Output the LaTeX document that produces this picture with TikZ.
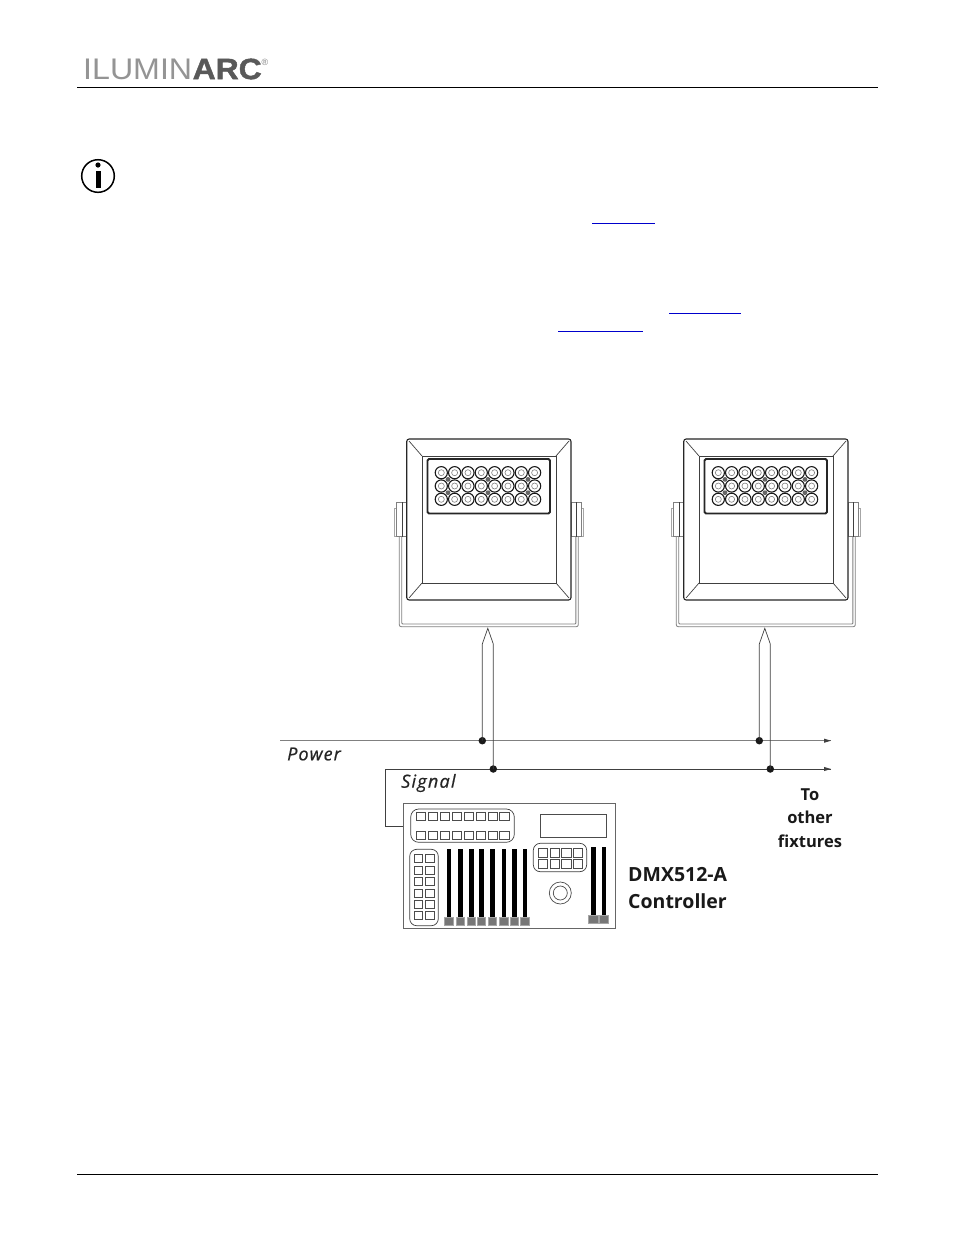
\documentclass[tikz,border=0pt]{standalone}
\usepackage{fontspec}
\setmainfont{Open Sans}
\newfontfamily\logofont{Liberation Sans}
\newfontfamily\logoheavy[FakeBold=1.5]{Liberation Sans Bold}
\definecolor{linkblue}{HTML}{0000CC}
\definecolor{faderk}{HTML}{777777}
\tikzset{
  line/.style={draw=black!75,line width=0.7pt},
  pale/.style={draw=black!50,line width=0.85pt},
  dark/.style={draw=black!85,line width=1.1pt},
  busline/.style={draw=black!50,line width=1.2pt},
  rule/.style={draw=black,line width=0.9pt},
  linkrule/.style={draw=linkblue,line width=1pt},
  junction/.style={circle,fill=black!90,inner sep=0pt,minimum size=7.5pt},
  btn/.style={draw=black!70,line width=0.55pt,fill=white},
  label/.style={inner sep=0pt,text=black!90,font=\bfseries},
  tag/.style={inner sep=0pt,text=black!85,font=\itshape\fontsize{18}{20}\selectfont},
  pics/fixture/.style={code={
    % bracket
    \draw[pale,rounded corners=2pt] (-5.7,536)--(-5.7,626.7)--(173.3,626.7)--(173.3,536);
    \draw[pale,rounded corners=1pt] (-3.3,536)--(-3.3,624)--(170.9,624)--(170.9,536);
    % pivots
    \draw[pale,draw=black!35] (-11,508.5) rectangle (-8.3,536);
    \draw[pale] (-8.3,502) rectangle (1.7,536.7);
    \draw[line] (-3,502)--(-3,536.7);
    \draw[pale,draw=black!35] (176,508.5) rectangle (178.7,536);
    \draw[pale] (166,502) rectangle (176,536.7);
    \draw[line] (171,502)--(171,536.7);
    % housing
    \draw[dark,fill=white,rounded corners=2.5pt] (1.7,439) rectangle (166,600);
    \draw[line] (17,456) rectangle (151,583);
    \draw[line] (4,441)--(17,456) (164,441)--(151,456) (4,598)--(17,583) (164,598)--(151,583);
    % panel
    \draw[draw=black!85,line width=1.8pt,fill=white,rounded corners=1.5pt] (22.5,459) rectangle (145,513.5);
    \foreach \i in {0,...,7}\foreach \yy in {472.7,486,499.3}{
      \draw[draw=black!90,line width=1.1pt] ({36.3+13.33*\i},\yy) circle (6.1pt);
      \draw[draw=black!50,line width=0.6pt] ({36.3+13.33*\i},\yy) circle (3pt);
    }
    \foreach \i in {0,3,6}\foreach \yy in {479.4,492.7}{
      \fill[black!60] ({43+13.33*\i},\yy) circle (2.4pt);
    }
  }}
}
\newcommand{\btnbox}[4]{\draw[btn] (#1,#2) rectangle (#3,#4);}
\begin{document}
\begin{tikzpicture}[x=1pt,y=-1pt]
\useasboundingbox (0,0) rectangle (954,1235);
\fill[white] (0,0) rectangle (954,1235);

% page furniture
\node[inner sep=0pt,anchor=west,text=black!42] (logoa) at (83,69) {\resizebox{109pt}{20.5pt}{\logofont ILUMIN}};
\node[inner sep=0pt,anchor=west,text=black!65] (logob) at (192.5,69) {\resizebox{69pt}{20.5pt}{\logoheavy ARC}};
\node[inner sep=0pt,anchor=west,text=black!50,font=\logofont\fontsize{9}{9}\selectfont] (logoc) at (261.5,62.5) {®};
\draw[rule] (77,87)--(878,87);
\draw[rule] (77,1174)--(878,1174);
\draw[draw=black,line width=1.5pt] (98,176) circle (16.3pt);
\fill[black] (98,165) circle (2.6pt);
\fill[black] (95.5,170.5) rectangle (100.5,188);
\draw[linkrule] (592,223.3)--(655,223.3);
\draw[linkrule] (669,313.3)--(741,313.3);
\draw[linkrule] (558,331.3)--(643,331.3);

% fixtures
\pic at (405,0) {fixture};
\pic at (682,0) {fixture};

% bus
\coordinate (pstart) at (280,740.7);
\coordinate (pend) at (831,740.7);
\coordinate (send) at (831,769);
\coordinate (scorner) at (385.3,769);
\coordinate (sdown) at (385.3,826.7);
\coordinate (sctl) at (404,826.7);
\draw[busline] (pstart)--(pend);
\fill[black!75] (831,740.7)--(824,738.6)--(824,742.8)--cycle;
\draw[line] (sctl)--(sdown)--(scorner)--(send);
\fill[black!75] (831,769)--(824,766.9)--(824,771.1)--cycle;

\node[junction] (p1) at (482.3,740.7) {};
\node[junction] (p2) at (759.3,740.7) {};
\node[junction] (s1) at (493.3,769) {};
\node[junction] (s2) at (770.3,769) {};
\coordinate (t1) at (487.8,628.3);
\coordinate (t2) at (764.8,628.3);
\draw[line,line join=miter] (p1.center)--(482.3,644)--(t1)--(493.3,644)--(s1.center);
\draw[line,line join=miter] (p2.center)--(759.3,644)--(t2)--(770.3,644)--(s2.center);

% labels
\node[tag,anchor=west] (power) at (287,754) {\addfontfeature{LetterSpace=6,FakeBold=0.6}Power};
\node[tag,anchor=west] (signal) at (401,783) {\addfontfeature{LetterSpace=7,FakeBold=0.6}Signal};
\node[label,align=center,font=\bfseries\fontsize{16.5}{23.5}\selectfont] (other) at (810,818) {To\\other\\fixtures};
\node[label,align=left,anchor=west,font=\bfseries\fontsize{19.5}{26.5}\selectfont] (ctl) at (628,888) {DMX512-A\\Controller};

% controller
\draw[draw=black!60,line width=1pt] (403.7,803.7) rectangle (615.3,928.3);
\draw[line,rounded corners=8pt] (410.7,809) rectangle (514.3,842.3);
\foreach \xx in {416.3,428.3,440.3,452.3,464.3,476.3,488.3,499.7}{
  \btnbox{\xx}{812.3}{\xx+9.3}{820.7}
  \btnbox{\xx}{831.3}{\xx+9.3}{839.7}
}
\draw[draw=black!70,line width=0.7pt] (540.3,814.3) rectangle (606.7,837.7);
\draw[line,rounded corners=7pt] (533.3,843.3) rectangle (586.7,871.7);
\foreach \xx in {538.3,550,561.7,573.3}{
  \btnbox{\xx}{848}{\xx+9.3}{857}
  \btnbox{\xx}{859.3}{\xx+9.3}{868}
}
\draw[line,rounded corners=7pt] (409.7,849.3) rectangle (438.3,925.7);
\foreach \yy in {854.3,866,877.7,889.3,900.3,911.3}{
  \btnbox{414}{\yy}{422.7}{\yy+8}
  \btnbox{425.3}{\yy}{434.3}{\yy+8}
}
\foreach \xx in {449,460.3,471.3,481.3,492.3,503.7,514.3,524.7}{
  \fill[black] (\xx-2.2,849.3) rectangle (\xx+2.2,918);
  \draw[draw=black!35,fill=faderk,line width=0.5pt] (\xx-4.4,917.3) rectangle (\xx+4.4,924.9);
}
\foreach \xx in {593.3,603.7}{
  \fill[black] (\xx-2.2,847.3) rectangle (\xx+2.2,916);
  \draw[draw=black!35,fill=faderk,line width=0.5pt] (\xx-4.6,915.5) rectangle (\xx+4.6,923);
}
\draw[draw=black!70,line width=0.7pt] (560.3,893) circle (11pt);
\draw[draw=black!70,line width=0.7pt] (560.3,893) circle (7pt);
\end{tikzpicture}
\end{document}
